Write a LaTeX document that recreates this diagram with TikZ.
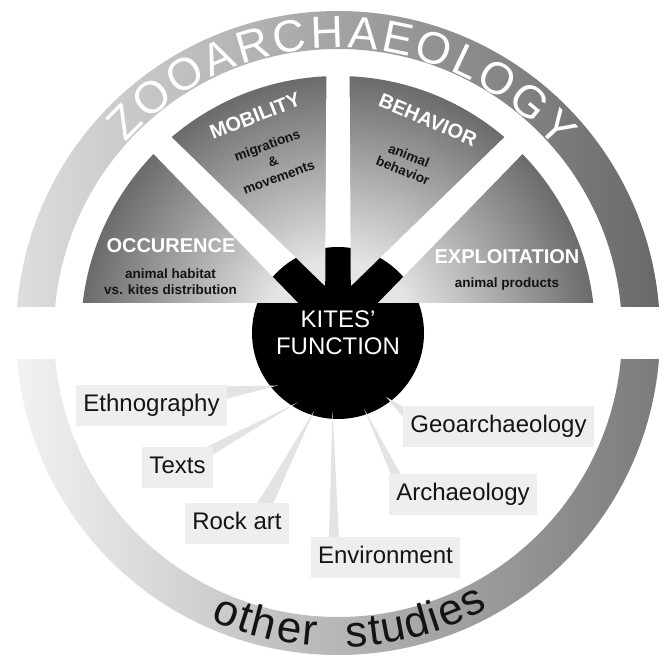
\documentclass[tikz,border=0pt]{standalone}
\usepackage{fontspec}
\setmainfont{Liberation Sans}
\usetikzlibrary{calc,decorations.text}
\definecolor{secin}{gray}{0.90}
\definecolor{secout}{gray}{0.42}
\definecolor{ringTL}{gray}{0.87}
\definecolor{ringTR}{gray}{0.41}
\definecolor{ringBL}{gray}{0.95}
\definecolor{ringBR}{gray}{0.48}
\definecolor{boxgray}{gray}{0.935}
\definecolor{linkgray}{gray}{0.89}
\definecolor{txtdark}{gray}{0.08}
\pgfdeclareradialshading{secshade}{\pgfpoint{0bp}{0bp}}{color(0bp)=(secin); color(7bp)=(secin); color(25bp)=(secout); color(50bp)=(secout)}
\tikzset{
  sectitle/.style={text=white, font=\fontsize{20}{22}\selectfont\bfseries, inner sep=0},
  secbody/.style={text=txtdark, font=\fontsize{13.5}{16}\selectfont\bfseries, align=center, inner sep=0},
  studybox/.style={fill=boxgray, text=txtdark, font=\fontsize{24}{26}\selectfont, inner xsep=7, inner ysep=0, minimum height=41, text height=17.5, text depth=5.5},
  linkwedge/.style={fill=linkgray},
}
\newcommand\gappoly[3]{($(P)+(#1:-5)+(#1+90:#2)$) -- ($(P)+(#1:268)+(#1+90:#3)$) -- ($(P)+(#1:268)+(#1-90:#3)$) -- ($(P)+(#1:-5)+(#1-90:#2)$) -- cycle}
\begin{document}
\begin{tikzpicture}[x=1pt,y=1pt]
\useasboundingbox (0,0) rectangle (664,656);
\coordinate (C) at (338,323);
\coordinate (P) at (338,335);
% outer rings
\begin{scope}
  \clip (0,349) rectangle (664,656);
  \shade[left color=ringTL, right color=ringTR, even odd rule] (C) circle (322) (C) circle (284);
\end{scope}
\begin{scope}
  \clip (0,0) rectangle (664,296);
  \shade[left color=ringBL, right color=ringBR, even odd rule] (C) circle (322) (C) circle (284);
\end{scope}
% sectors
\begin{scope}
  \clip (0,353) rectangle (664,656);
  \shade[shading=secshade] (C) circle (257);
\end{scope}
\fill[white] \gappoly{45}{16}{12};
\fill[white] \gappoly{90}{13}{11.5};
\fill[white] \gappoly{135}{16}{12};
% black gear
\begin{scope}
  \clip (C) circle (86);
  \fill[black] \gappoly{45}{16}{12};
  \fill[black] \gappoly{90}{13}{11.5};
  \fill[black] \gappoly{135}{16}{12};
  \fill[black] (0,0) rectangle (664,353);
\end{scope}
% study boxes (placed first to fix anchors)
\path (151.5,250) node[studybox] (eth) {Ethnography};
\path (177.5,188) node[studybox] (texts) {Texts};
\path (237,132.5) node[studybox] (rock) {Rock art};
\path (385.5,98.5) node[studybox] (env) {Environment};
\path (463,161.5) node[studybox] (arch) {Archaeology};
\path (498.5,229.5) node[studybox] (geo) {Geoarchaeology};
% connectors
\coordinate (tEth) at ($(C)+(221:80)$);
\coordinate (tTex) at ($(C)+(240:80)$);
\coordinate (tRock) at ($(C)+(253:81)$);
\coordinate (tEnv) at ($(C)+(266:78)$);
\coordinate (tArch) at ($(C)+(289:80)$);
\coordinate (tGeo) at ($(C)+(307:80)$);
\fill[linkwedge] (tEth) -- ($(eth.north east)+(-2,-1)$) -- ($(eth.north east)+(-2,-14)$) -- cycle;
\fill[linkwedge] (tTex) -- ($(texts.north east)+(-9,-1)$) -- ($(texts.north east)+(-1,-8)$) -- cycle;
\fill[linkwedge] (tRock) -- ($(rock.north)+(20,-1)$) -- ($(rock.north)+(36,-1)$) -- cycle;
\fill[linkwedge] (tEnv) -- ($(env.north west)+(18,-1)$) -- ($(env.north west)+(28,-1)$) -- cycle;
\fill[linkwedge] (tArch) -- ($(arch.north west)+(2,-1)$) -- ($(arch.north west)+(12,-1)$) -- cycle;
\fill[linkwedge] (tGeo) -- ($(geo.north west)+(1,-2)$) -- ($(geo.north west)+(1,-13)$) -- cycle;
\node[studybox] (eth2) at (eth) {Ethnography};
\node[studybox] (texts2) at (texts) {Texts};
\node[studybox] (rock2) at (rock) {Rock art};
\node[studybox] (env2) at (env) {Environment};
\node[studybox] (arch2) at (arch) {Archaeology};
\node[studybox] (geo2) at (geo) {Geoarchaeology};
% centre text
\node[text=white, font=\fontsize{24}{27}\selectfont, align=center, inner sep=0] (kites) at (338,323) {KITES'\\FUNCTION};
% sector texts
\node[sectitle] (occ) at (171,410) {OCCURENCE};
\node[secbody] (occb) at (170.5,374.5) {animal habitat\\vs. kites distribution};
\node[sectitle] (expl) at (507,399) {EXPLOITATION};
\node[secbody] (explb) at (507,372) {animal products};
\node[sectitle, rotate=21.5] (mob) at (255,540) {MOBILITY};
\node[secbody, rotate=20, font=\fontsize{13.5}{17}\selectfont\bfseries] (mobb) at (273,495) {migrations\\\&\\movements};
\node[sectitle, rotate=-23] (beh) at (428,536) {BEHAVIOR};
\node[secbody, rotate=-22] (behb) at (406,493) {animal\\behavior};
% ring texts
\path[decorate, decoration={text along path, text color=white, text={|\fontsize{45}{45}\selectfont|ZOOARCHAEOLOGY}, text align={fit to path}}]
  ($(C)+(138:285)$) arc[start angle=138, end angle=40, radius=285];
\path[decorate, decoration={text along path, text color=txtdark, text={|\fontsize{44}{44}\selectfont|other}, text align={fit to path}}]
  ($(C)+(246:314)$) arc[start angle=246, end angle=266, radius=314];
\path[decorate, decoration={text along path, text color=txtdark, text={|\fontsize{44}{44}\selectfont|studies}, text align={fit to path}}]
  ($(C)+(271.6:314)$) arc[start angle=271.6, end angle=298.5, radius=314];
\end{tikzpicture}
\end{document}
